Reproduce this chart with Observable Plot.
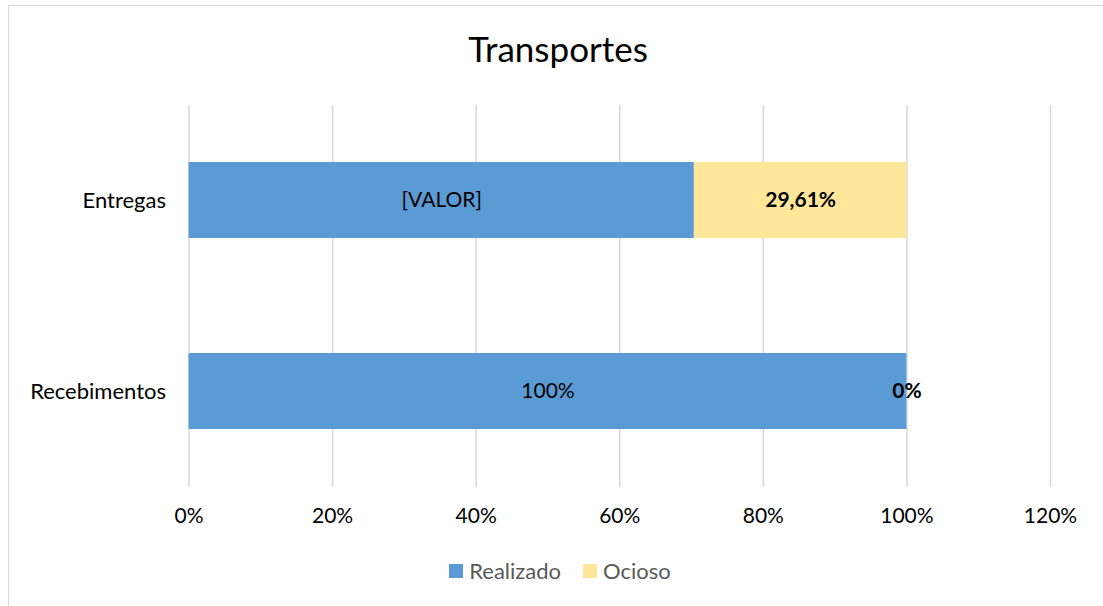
<!DOCTYPE html>
<html>
<head>
<meta charset="utf-8">
<script src="https://cdn.jsdelivr.net/npm/d3@7"></script>
<script src="https://cdn.jsdelivr.net/npm/@observablehq/plot@0.6"></script>
<style>
  html, body { margin: 0; padding: 0; background: #fff; overflow: hidden; }
  #wrap { position: relative; width: 1103px; height: 606px; overflow: hidden; font-family: Lato, "Open Sans", sans-serif; }
  #frame { position: absolute; left: 8px; top: 5px; width: 1200px; height: 700px; border: 1.5px solid #d9d9d9; box-sizing: border-box; }
  #title { position: absolute; left: 0; top: 28px; width: 1116px; text-align: center; font-size: 35px; color: #000; line-height: 40px; }
  #chart { position: absolute; left: 0; top: 90px; }
  #legend { position: absolute; left: 0; top: 559px; width: 1120px; display: flex; justify-content: center; align-items: center; font-size: 22px; color: #595959; line-height: 24px; }
  .item { display: flex; align-items: center; margin: 0 11px; }
  .sw { width: 14px; height: 14px; margin-right: 6px; }
</style>
</head>
<body>
<div id="wrap">
  <div id="frame"></div>
  <div id="title">Transportes</div>
  <div id="chart"></div>
  <div id="legend"></div>
</div>
<script>
const categories = ["Entregas", "Recebimentos"];
const seriesNames = ["Realizado", "Ocioso"];
const seriesColors = ["#5b9bd5", "#ffe699"];
const realizado = [0.7039, 1.0];
const ocioso = [0.2961, 0.0];
const realizadoLabels = ["[VALOR]", "100%"];
const ociosoLabels = ["29,61%", "0%"];
const xTicks = [0, 0.2, 0.4, 0.6, 0.8, 1.0, 1.2];

const rows = [];
categories.forEach((c, i) => {
  rows.push({cat: c, series: "Realizado", value: realizado[i], label: realizadoLabels[i]});
  rows.push({cat: c, series: "Ocioso", value: ocioso[i], label: ociosoLabels[i]});
});

const fmt = d => Math.round(d * 100) + "%";

const plot = Plot.plot({
  width: 1103,
  height: 447,
  marginLeft: 188.5,
  marginRight: 53,
  marginTop: 15,
  marginBottom: 50,
  style: {fontFamily: "Lato, 'Open Sans', sans-serif", fontSize: "21px", color: "#000", background: "transparent"},
  x: {domain: [0, 1.2], ticks: xTicks, tickFormat: fmt},
  y: {domain: categories, paddingInner: 0.6, paddingOuter: 0.3},
  color: {domain: seriesNames, range: seriesColors},
  marks: [
    Plot.ruleX(xTicks, {stroke: "#d9d9d9", strokeWidth: 1.5}),
    Plot.barX(rows, Plot.stackX({x: "value", y: "cat", fill: "series", z: "series", order: seriesNames})),
    Plot.text(rows, Plot.stackX({x: "value", y: "cat", z: "series", order: seriesNames, text: d => d.series === "Realizado" ? d.label : null, fill: "#000", fontSize: 21})),
    Plot.text(rows, Plot.stackX({x: "value", y: "cat", z: "series", order: seriesNames, text: d => d.series === "Ocioso" ? d.label : null, fill: "#000", fontSize: 21, fontWeight: "bold"})),
    Plot.axisX({ticks: xTicks, tickFormat: fmt, tickSize: 0, tickPadding: 21, fontSize: 21, label: null}),
    Plot.axisY({tickSize: 0, tickPadding: 23, fontSize: 22, label: null})
  ]
});
document.getElementById("chart").appendChild(plot);

const legend = document.getElementById("legend");
seriesNames.forEach((s, i) => {
  const it = document.createElement("div");
  it.className = "item";
  const sw = document.createElement("div");
  sw.className = "sw";
  sw.style.background = seriesColors[i];
  const t = document.createElement("span");
  t.textContent = s;
  it.appendChild(sw); it.appendChild(t);
  legend.appendChild(it);
});
</script>
</body>
</html>
